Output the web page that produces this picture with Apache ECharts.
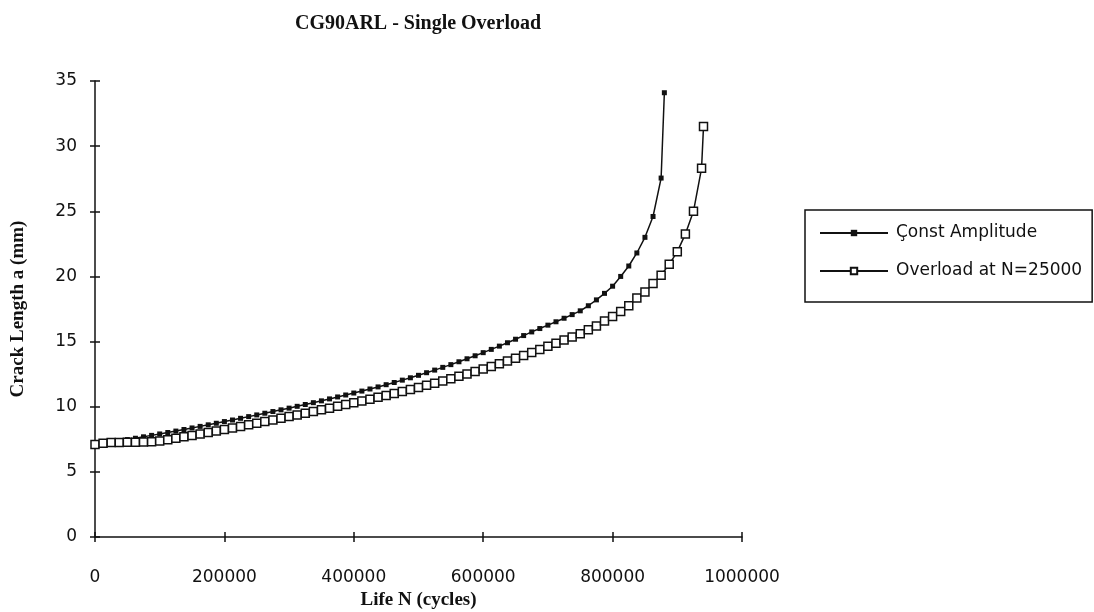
<!DOCTYPE html>
<html>
<head>
<meta charset="utf-8">
<title>CG90ARL - Single Overload</title>
<script src="https://cdn.jsdelivr.net/npm/echarts/dist/echarts.min.js"></script>
<style>
  html, body { margin: 0; padding: 0; background: #fff; }
  #chart { width: 1094px; height: 612px; }
</style>
</head>
<body>
<div id="chart"></div>
<script>
// cycle count at each recorded point (every 12500 cycles)
const gridN = [
  0, 12500, 25000, 37500, 50000, 62500, 75000, 87500, 100000, 112500,
  125000, 137500, 150000, 162500, 175000, 187500, 200000, 212500, 225000, 237500,
  250000, 262500, 275000, 287500, 300000, 312500, 325000, 337500, 350000, 362500,
  375000, 387500, 400000, 412500, 425000, 437500, 450000, 462500, 475000, 487500,
  500000, 512500, 525000, 537500, 550000, 562500, 575000, 587500, 600000, 612500,
  625000, 637500, 650000, 662500, 675000, 687500, 700000, 712500, 725000, 737500,
  750000, 762500, 775000, 787500, 800000, 812500, 825000, 837500, 850000, 862500,
  875000, 887500, 900000, 912500, 925000, 937500
];

// crack length (mm), constant amplitude
const constA = [
  7.10, 7.19, 7.28, 7.38, 7.48, 7.58, 7.69, 7.80, 7.91, 8.02,
  8.13, 8.25, 8.37, 8.49, 8.61, 8.73, 8.86, 8.98, 9.11, 9.24,
  9.37, 9.50, 9.63, 9.76, 9.89, 10.03, 10.17, 10.31, 10.45, 10.60,
  10.75, 10.90, 11.05, 11.20, 11.36, 11.52, 11.69, 11.86, 12.04, 12.22,
  12.41, 12.61, 12.81, 13.02, 13.23, 13.45, 13.68, 13.91, 14.15, 14.40,
  14.65, 14.91, 15.18, 15.46, 15.74, 16.00, 16.26, 16.52, 16.79, 17.07,
  17.36, 17.75, 18.20, 18.70, 19.25, 20.00, 20.80, 21.80, 23.00, 24.60,
  27.55
];
const constEnd = [880000, 34.1];

// crack length (mm), overload at N=25000
const ovlA = [
  7.10, 7.19, 7.25, 7.26, 7.27, 7.28, 7.29, 7.31, 7.36, 7.46,
  7.58, 7.69, 7.80, 7.91, 8.02, 8.13, 8.25, 8.37, 8.49, 8.61,
  8.73, 8.86, 8.98, 9.11, 9.24, 9.37, 9.50, 9.63, 9.76, 9.89,
  10.03, 10.17, 10.31, 10.44, 10.58, 10.72, 10.87, 11.02, 11.17, 11.32,
  11.48, 11.64, 11.81, 11.98, 12.15, 12.33, 12.51, 12.70, 12.89, 13.09,
  13.29, 13.50, 13.72, 13.94, 14.17, 14.40, 14.64, 14.88, 15.12, 15.36,
  15.60, 15.90, 16.20, 16.57, 16.92, 17.30, 17.75, 18.35, 18.80, 19.45,
  20.10, 20.93, 21.90, 23.25, 25.00, 28.30
];
const ovlEnd = [940500, 31.5];

const seriesNames = ['Çonst Amplitude', 'Overload at N=25000'];

const constData = constA.map((a, i) => [gridN[i], a]).concat([constEnd]);
const ovlData = ovlA.map((a, i) => [gridN[i], a]).concat([ovlEnd]);

const serif = '"Liberation Serif", "Times New Roman", serif';
const sans = '"DejaVu Sans", sans-serif';
const ink = '#111';

// plot box (px)
const plotLeft = 95, plotTop = 81, plotRight = 352, plotBottom = 75;
const plotW = 1094 - plotLeft - plotRight;
const plotH = 612 - plotTop - plotBottom;

// ticks cross the axis line: the main axes draw them outside, twin axes on the
// opposite side are pulled back onto the main axes and draw the inner half
const tickStyle = { color: ink, width: 1.5 };
const axisLineStyle = { color: ink, width: 1.5 };

const chart = echarts.init(document.getElementById('chart'));

chart.setOption({
  animation: false,
  title: {
    text: 'CG90ARL - Single Overload',
    left: 413,
    top: 9,
    textAlign: 'center',
    textStyle: { fontFamily: serif, fontSize: 20, fontWeight: 'bold', color: ink }
  },
  legend: {
    orient: 'vertical',
    left: 805,
    top: 210,
    padding: [13, 10, 21, 14],
    itemGap: 18,
    itemWidth: 68,
    itemHeight: 8,
    borderColor: ink,
    borderWidth: 1.5,
    textStyle: { fontFamily: sans, fontSize: 17, color: ink, lineHeight: 20, padding: [0, 0, 0, 3] },
    data: seriesNames
  },
  grid: {
    left: plotLeft, top: plotTop, right: plotRight, bottom: plotBottom,
    containLabel: false,
    outerBoundsMode: 'none'
  },
  xAxis: [
    {
      type: 'value',
      min: 0,
      max: 1000000,
      interval: 200000,
      name: 'Life N (cycles)',
      nameLocation: 'middle',
      nameGap: 50,
      nameTextStyle: { fontFamily: serif, fontSize: 19, fontWeight: 'bold', color: ink },
      axisLine: { show: true, onZero: false, lineStyle: axisLineStyle },
      axisTick: { show: true, length: 5, lineStyle: tickStyle },
      axisLabel: { margin: 32, fontFamily: sans, fontSize: 17, color: ink, formatter: v => String(v) },
      splitLine: { show: false }
    },
    {
      type: 'value',
      position: 'top',
      offset: -plotH,
      min: 0,
      max: 1000000,
      interval: 200000,
      axisLine: { show: false, onZero: false },
      axisTick: { show: true, length: 5, lineStyle: tickStyle },
      axisLabel: { show: false },
      splitLine: { show: false }
    }
  ],
  yAxis: [
    {
      type: 'value',
      min: 0,
      max: 35,
      interval: 5,
      name: 'Crack Length a (mm)',
      nameLocation: 'middle',
      nameGap: 67,
      nameRotate: 90,
      nameTextStyle: { fontFamily: serif, fontSize: 19, fontWeight: 'bold', color: ink },
      axisLine: { show: true, onZero: false, lineStyle: axisLineStyle },
      axisTick: { show: true, length: 5, lineStyle: tickStyle },
      axisLabel: { margin: 18, fontFamily: sans, fontSize: 17, color: ink },
      splitLine: { show: false }
    },
    {
      type: 'value',
      position: 'right',
      offset: -plotW,
      min: 0,
      max: 35,
      interval: 5,
      axisLine: { show: false, onZero: false },
      axisTick: { show: true, length: 5, lineStyle: tickStyle },
      axisLabel: { show: false },
      splitLine: { show: false }
    }
  ],
  series: [
    {
      name: seriesNames[0],
      type: 'line',
      data: constData,
      symbol: 'rect',
      symbolSize: 5,
      showAllSymbol: true,
      lineStyle: { color: ink, width: 1.5 },
      itemStyle: { color: ink, borderColor: ink, borderWidth: 0 }
    },
    {
      // drawn on the twin axes (same scale) so those are in use
      name: seriesNames[1],
      type: 'line',
      xAxisIndex: 1,
      yAxisIndex: 1,
      data: ovlData,
      symbol: 'rect',
      symbolSize: 8,
      showAllSymbol: true,
      lineStyle: { color: ink, width: 1.5 },
      itemStyle: { color: '#fff', borderColor: ink, borderWidth: 1.5 }
    }
  ]
});
</script>
</body>
</html>
